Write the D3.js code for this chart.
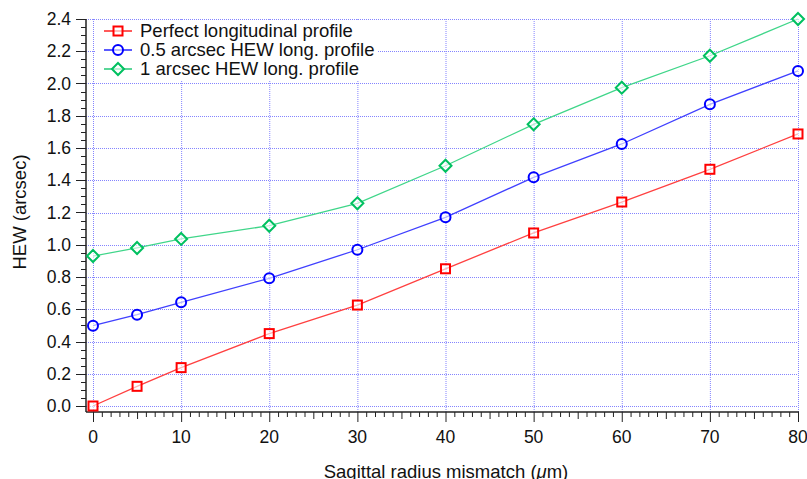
<!DOCTYPE html>
<html>
<head>
<meta charset="utf-8">
<script src="https://cdn.jsdelivr.net/npm/d3@7"></script>
<style>
  body { margin: 0; background: #fff; }
  text { font-family: "Liberation Sans", Arial, sans-serif; fill: #111; }
</style>
</head>
<body>
<svg id="chart" width="807" height="479"></svg>
<script>
// Data
const mismatch = [0, 5, 10, 20, 30, 40, 50, 60, 70, 80];
const perfectProfile = [0.0, 0.122, 0.238, 0.449, 0.626, 0.851, 1.073, 1.265, 1.468, 1.687];
const halfArcsecProfile = [0.498, 0.566, 0.643, 0.792, 0.969, 1.170, 1.418, 1.625, 1.871, 2.078];
const oneArcsecProfile = [0.930, 0.980, 1.036, 1.118, 1.257, 1.490, 1.747, 1.974, 2.172, 2.400];
const seriesNames = ["Perfect longitudinal profile", "0.5 arcsec HEW long. profile", "1 arcsec HEW long. profile"];
const xTicks = [0, 10, 20, 30, 40, 50, 60, 70, 80];
const yTicks = [0.0, 0.2, 0.4, 0.6, 0.8, 1.0, 1.2, 1.4, 1.6, 1.8, 2.0, 2.2, 2.4];

const svg = d3.select("#chart");

// Plot geometry
const plotLeft = 93, plotRight = 798, plotTop = 19, plotBottom = 406;
const xAxisY = 412, yAxisX = 86;
const tickFont = 17.5, titleFont = 18.5;

const x = d3.scaleLinear().domain([0, 80]).range([plotLeft, plotRight]);
const y = d3.scaleLinear().domain([0, 2.4]).range([plotBottom, plotTop]);

// Grid lines (dotted blue)
const grid = svg.append("g").attr("stroke", "#6f6fff").attr("stroke-width", 1)
  .attr("stroke-dasharray", "1,1").attr("opacity", 0.85);
grid.selectAll(".gx").data(xTicks).join("line")
  .attr("x1", d => x(d) + 0.5).attr("x2", d => x(d) + 0.5)
  .attr("y1", plotTop).attr("y2", xAxisY);
grid.selectAll(".gy").data(yTicks).join("line")
  .attr("x1", yAxisX).attr("x2", plotRight)
  .attr("y1", d => Math.round(y(d)) + 0.5).attr("y2", d => Math.round(y(d)) + 0.5);

// X axis: major every 10, medium every 5, minor every 1
const xAxisG = svg.append("g").attr("stroke", "#222");
xAxisG.append("line").attr("x1", yAxisX).attr("x2", plotRight + 1)
  .attr("y1", xAxisY).attr("y2", xAxisY).attr("stroke-width", 1.5);
xAxisG.selectAll(".tk").data(d3.range(0, 81)).join("line")
  .attr("x1", d => x(d) + 0.5).attr("x2", d => x(d) + 0.5)
  .attr("y1", xAxisY)
  .attr("y2", d => xAxisY + (d % 10 === 0 ? 10 : d % 5 === 0 ? 7 : 5))
  .attr("stroke-width", 1);
svg.append("g").selectAll("text").data(xTicks).join("text")
  .attr("x", d => x(d)).attr("y", 443)
  .attr("text-anchor", "middle").attr("font-size", tickFont)
  .text(d => d);

// Y axis: major every 0.2, minor every 0.05
const yAxisG = svg.append("g").attr("stroke", "#222");
yAxisG.append("line").attr("x1", yAxisX).attr("x2", yAxisX)
  .attr("y1", plotTop).attr("y2", xAxisY).attr("stroke-width", 1.5);
yAxisG.selectAll(".tk").data(d3.range(0, 49)).join("line")
  .attr("x1", d => yAxisX - (d % 4 === 0 ? 10 : 5)).attr("x2", yAxisX)
  .attr("y1", d => Math.round(y(d * 0.05)) + 0.5)
  .attr("y2", d => Math.round(y(d * 0.05)) + 0.5)
  .attr("stroke-width", 1);
svg.append("g").selectAll("text").data(yTicks).join("text")
  .attr("x", 71).attr("y", d => y(d) + 6)
  .attr("text-anchor", "end").attr("font-size", tickFont)
  .text(d => d.toFixed(1));

// Axis titles
svg.append("text")
  .attr("transform", "translate(26,212) rotate(-90)")
  .attr("text-anchor", "middle").attr("font-size", titleFont)
  .text("HEW (arcsec)");
const xt = svg.append("text").attr("x", 446).attr("y", 478)
  .attr("text-anchor", "middle").attr("font-size", titleFont);
xt.append("tspan").text("Sagittal radius mismatch (");
xt.append("tspan").attr("font-style", "italic").text("\u03bc");
xt.append("tspan").text("m)");

// Series
const series = [
  { name: seriesNames[0], values: perfectProfile, color: "#ff0000", line: "#ff4040", shape: "square" },
  { name: seriesNames[1], values: halfArcsecProfile, color: "#0000ff", line: "#4040ff", shape: "circle" },
  { name: seriesNames[2], values: oneArcsecProfile, color: "#00c060", line: "#40d68a", shape: "diamond" }
];

function drawMarker(g, shape, color) {
  if (shape === "square") {
    g.append("rect").attr("x", -4.5).attr("y", -4.5).attr("width", 9).attr("height", 9)
      .attr("fill", "#fff").attr("fill-opacity", 0.6).attr("stroke", color).attr("stroke-width", 2);
  } else if (shape === "circle") {
    g.append("circle").attr("r", 5)
      .attr("fill", "#fff").attr("fill-opacity", 0.6).attr("stroke", color).attr("stroke-width", 2);
  } else {
    g.append("path").attr("d", "M0,-6L6,0L0,6L-6,0Z")
      .attr("fill", "#fff").attr("fill-opacity", 0.6).attr("stroke", color).attr("stroke-width", 2);
  }
}

const line = d3.line().x(d => x(d[0])).y(d => y(d[1]));

series.forEach(s => {
  const pts = mismatch.map((m, i) => [m, s.values[i]]);
  svg.append("path").datum(pts).attr("d", line)
    .attr("fill", "none").attr("stroke", s.line).attr("stroke-width", 1.3);
  svg.append("g").selectAll("g").data(pts).join("g")
    .attr("transform", d => `translate(${x(d[0])},${y(d[1])})`)
    .each(function() { drawMarker(d3.select(this), s.shape, s.color); });
});

// Legend
const legend = svg.append("g");
legend.append("rect").attr("x", 96).attr("y", 20).attr("width", 282).attr("height", 60).attr("fill", "#fff");
series.forEach((s, i) => {
  const ly = 31 + i * 19;
  const row = legend.append("g");
  row.append("line").attr("x1", 104).attr("x2", 132).attr("y1", ly).attr("y2", ly)
    .attr("stroke", s.color).attr("stroke-width", 1.3);
  const m = row.append("g").attr("transform", `translate(118,${ly})`);
  drawMarker(m, s.shape, s.color);
  row.append("text").attr("x", 140).attr("y", ly + 6).attr("font-size", titleFont).text(s.name);
});
</script>
</body>
</html>
